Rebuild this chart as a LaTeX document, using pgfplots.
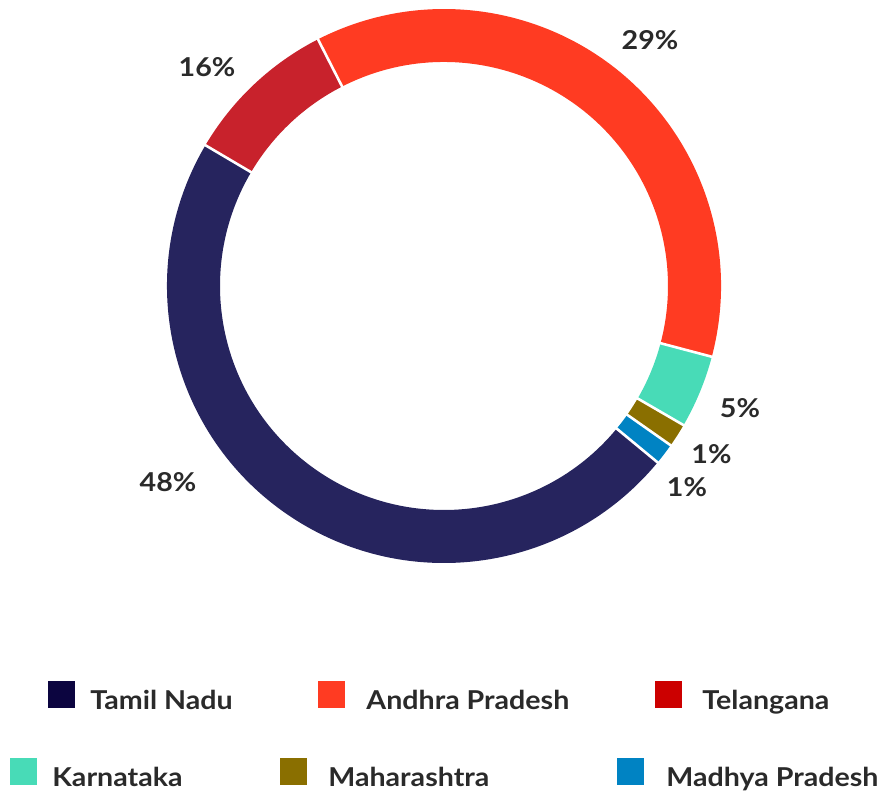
\documentclass[border=0pt]{standalone}
\usepackage{fontspec}
\setmainfont{Lato}[FakeStretch=1.1]
\usepackage{pgfplots}
\pgfplotsset{compat=1.18}
\usetikzlibrary{calc}
\definecolor{tn}{HTML}{26245E}
\definecolor{tnl}{HTML}{0C0540}
\definecolor{ap}{HTML}{FF3B22}
\definecolor{tel}{HTML}{C8222C}
\definecolor{tell}{HTML}{CC0000}
\definecolor{kar}{HTML}{48DBB7}
\definecolor{mah}{HTML}{8A6F00}
\definecolor{mp}{HTML}{0083C3}
\definecolor{txt}{HTML}{2A2A2A}
% slice: start angle, end angle (degrees, counter-clockwise), colour
\newcommand\slice[3]{%
  \fill[#3] ($(axis cs:444,286)+(#1:138.5pt)$) arc[start angle=#1, end angle=#2, radius=138.5pt]
    -- ($(axis cs:444,286)+(#2:112pt)$) arc[start angle=#2, end angle=#1, radius=112pt] -- cycle;}
\newcommand\sep[1]{%
  \draw[white, line width=1.3pt] ($(axis cs:444,286)+(#1:110pt)$) -- ($(axis cs:444,286)+(#1:140pt)$);}
\newcommand\lab[3]{\node[anchor=base, font=\bfseries\fontsize{13}{15}\selectfont, text=txt, inner sep=0pt] at (axis cs:#1,#2) {#3};}
% legend: square x, square y, text x, label, colour
\newcommand\leg[5]{%
  \fill[#5] (axis cs:#1,#2) rectangle (axis cs:#1+27,#2+27);
  \node[anchor=base west, font=\bfseries\fontsize{13}{15}\selectfont, text=txt, inner sep=0pt] at (axis cs:#3,#2+28) {#4};}
\begin{document}
\begin{tikzpicture}
\begin{axis}[
  scale only axis, width=439.5pt, height=395pt,
  xmin=0, xmax=879, ymin=0, ymax=790, y dir=reverse,
  axis lines=none, ticks=none, clip=false,
]
% Tamil Nadu 47.5, Telangana 9.0, Andhra Pradesh 36.6, Karnataka 4.3, Maharashtra 1.4, Madhya Pradesh 1.2 (drawn shares)
\slice{149.46}{320.45}{tn}
\slice{117.06}{149.46}{tel}
\slice{-14.8}{117.06}{ap}
\slice{-30.15}{-14.8}{kar}
\slice{-35.1}{-30.15}{mah}
\slice{-39.55}{-35.1}{mp}
\sep{149.46}\sep{117.06}\sep{-14.8}\sep{-30.15}\sep{-35.1}\sep{-39.55}
\lab{650}{50}{29\%}
\lab{207}{77}{16\%}
\lab{168}{491}{48\%}
\lab{740}{417}{5\%}
\lab{711.5}{463}{1\%}
\lab{687}{496}{1\%}
\leg{48}{681}{90}{Tamil Nadu}{tnl}
\leg{318}{681}{366}{Andhra Pradesh}{ap}
\leg{655}{681}{702}{Telangana}{tell}
\leg{10}{758}{52}{Karnataka}{kar}
\leg{280}{758}{328}{Maharashtra}{mah}
\leg{617}{758}{666}{Madhya Pradesh}{mp}
\end{axis}
\useasboundingbox (0,0) rectangle (439.5pt,395pt);
\end{tikzpicture}
\end{document}
